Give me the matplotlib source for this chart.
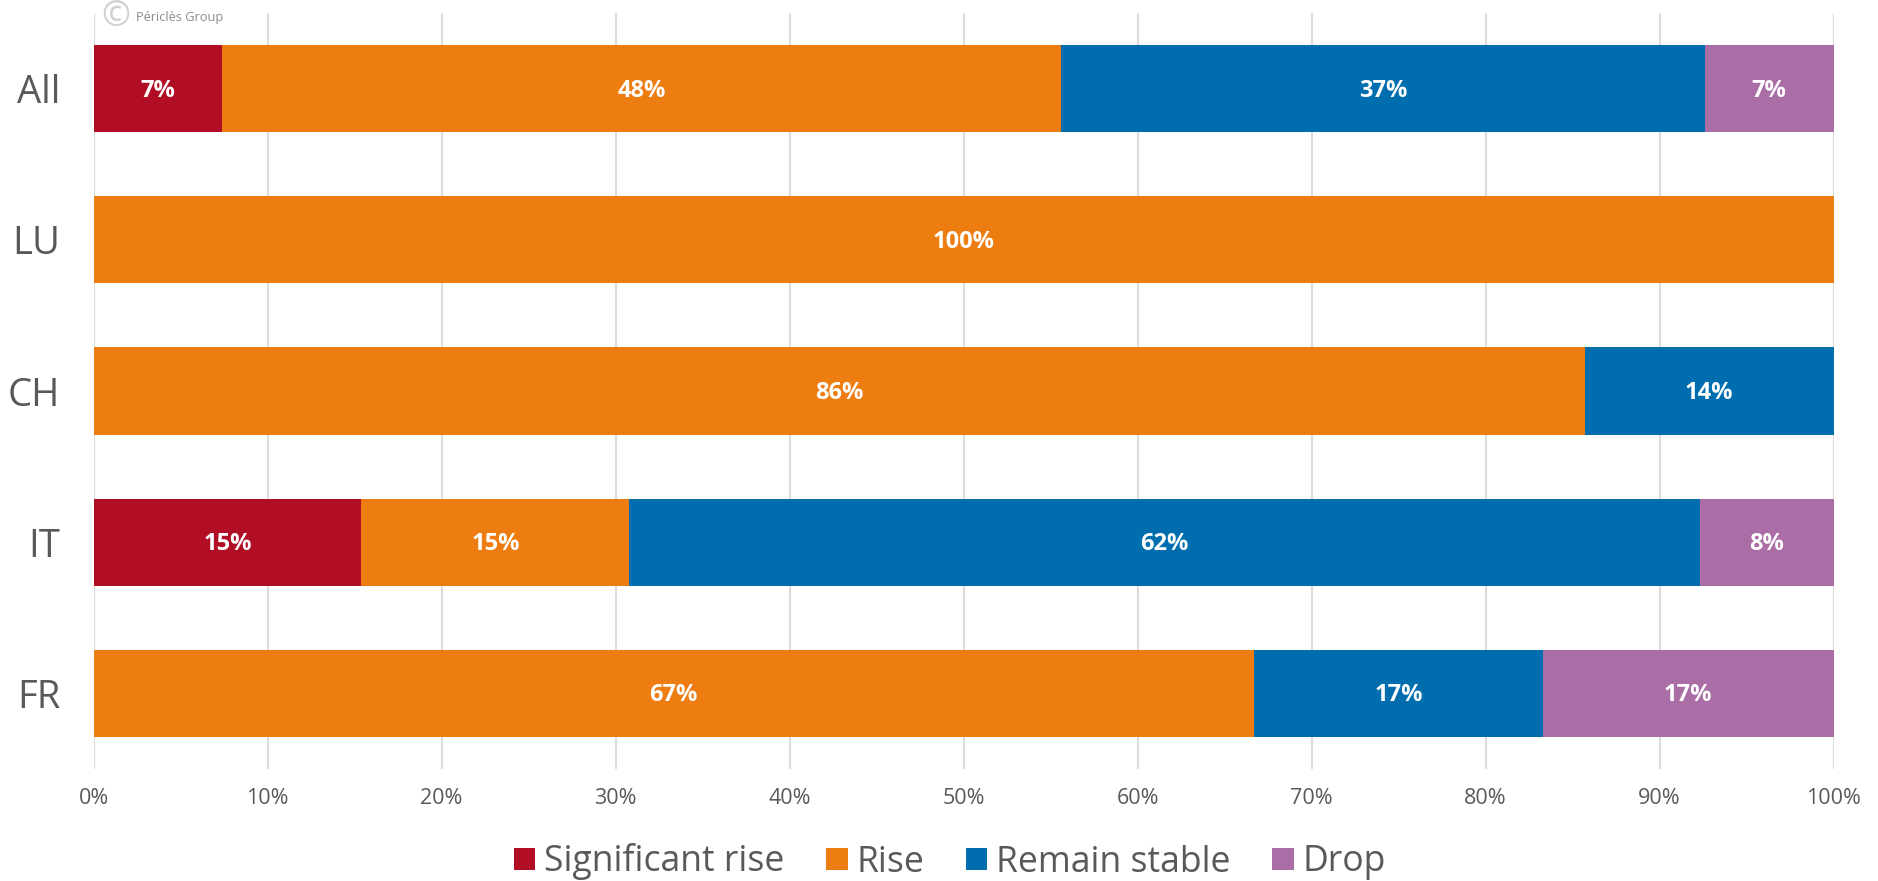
import matplotlib
matplotlib.use('Agg')
import matplotlib.pyplot as plt
import numpy as np

plt.rcParams['font.family'] = ['Open Sans', 'DejaVu Sans']

categories = ['All', 'LU', 'CH', 'IT', 'FR']
series_names = ['Significant rise', 'Rise', 'Remain stable', 'Drop']
significant_rise = [7.4, 0, 0, 15.4, 0]
rise = [48.2, 100, 85.7, 15.4, 66.7]
remain_stable = [37.0, 0, 14.3, 61.5, 16.6]
drop = [7.4, 0, 0, 7.7, 16.7]
colors = ['#b10e26', '#ee7d11', '#006eae', '#aa6da5']
ticks = list(range(0, 101, 10))
tick_labels = ['%d%%' % t for t in ticks]

fig = plt.figure(figsize=(18.78, 8.81), dpi=100)
ax = fig.add_axes([93.5 / 1878, 1 - 769 / 881, 1740 / 1878, 756 / 881])

ypos = np.arange(len(categories))
left = np.zeros(len(categories))
for name, vals, col in zip(series_names, [significant_rise, rise, remain_stable, drop], colors):
    vals = np.array(vals)
    bars = ax.barh(ypos, vals, left=left, height=0.576, color=col, label=name, zorder=3)
    for b, v in zip(bars, vals):
        if v > 0:
            ax.annotate('%d%%' % round(v), (b.get_x() + b.get_width() / 2, b.get_y() + b.get_height() / 2),
                        xytext=(0, -2), textcoords='offset pixels', color='white', fontsize=17,
                        fontweight='bold', ha='center', va='center', zorder=4)
    left += vals

ax.set_xlim(0, 100)
ax.set_ylim(len(categories) - 0.5, -0.5)
ax.set_xticks(ticks)
ax.set_xticklabels(tick_labels, fontsize=15.5, color='#595959')
ax.set_yticks(ypos)
ax.set_yticklabels(categories, fontsize=27.5, color='#595959')
ax.tick_params(axis='both', length=0)
ax.tick_params(axis='x', pad=14)
ax.tick_params(axis='y', pad=24)
ax.grid(axis='x', color='#dcdcdc', linewidth=1.5, zorder=0)
ax.set_axisbelow(True)
for s in ax.spines.values():
    s.set_visible(False)

# watermark
fig.text(116 / 1878, 1 - 17 / 881, '\u00a9', fontsize=25, color='#cfcfcf', ha='center', va='center')
fig.text(136 / 1878, 1 - 18 / 881, 'Périclès Group', fontsize=9.2, color='#8c8c8c', ha='left', va='center')

fig.legend(loc='center', bbox_to_anchor=(950 / 1878, 1 - 862 / 881), ncol=4, frameon=False,
           fontsize=25.6, labelcolor='#595959', handlelength=0.6, handleheight=0.6,
           handletextpad=0.25, columnspacing=1.17)

fig.savefig('out.png', dpi=100)
